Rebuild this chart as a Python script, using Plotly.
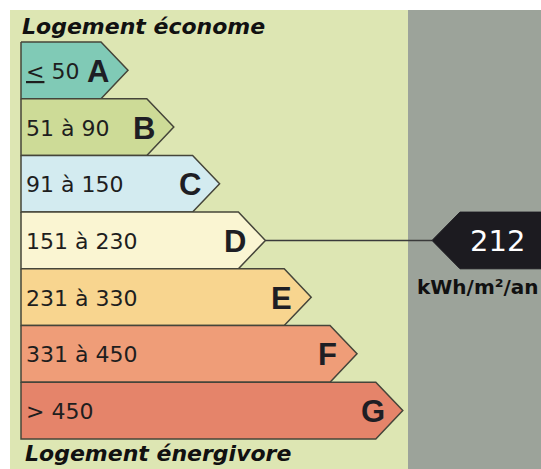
import plotly.graph_objects as go

# ---- data ----
classes = ["A", "B", "C", "D", "E", "F", "G"]
range_labels = ["<u>&lt;</u> 50", "51 à 90", "91 à 150", "151 à 230", "231 à 330", "331 à 450", "> 450"]
upper_bounds = [50, 90, 150, 230, 330, 450, float("inf")]
class_colors = ["#80cab6", "#cddb97", "#d3ebf0", "#faf5d2", "#f8d58f", "#ef9d78", "#e5846a"]
value = 212
unit_label = "kWh/m²/an"
top_title = "Logement économe"
bottom_title = "Logement énergivore"

# ---- layout geometry (pixel-like coordinate system) ----
W, H = 541, 469
x_left = 21
rect_right0 = 101
rect_step = 45.8
tip_len = 27
row_top0 = 42
row_h = 56.7

fig = go.Figure()

# background panels
fig.add_shape(type="rect", xref="x", yref="y", x0=10, x1=408, y0=10, y1=H,
              fillcolor="#dde6b3", line_width=0, layer="below")
fig.add_shape(type="rect", xref="x", yref="y", x0=408, x1=W, y0=10, y1=H,
              fillcolor="#9ca39a", line_width=0, layer="below")

# find class of value
cls_idx = next(i for i, ub in enumerate(upper_bounds) if value <= ub)

tips = []
for i, (c, lab, col) in enumerate(zip(classes, range_labels, class_colors)):
    top = row_top0 + i * row_h
    bot = top + row_h
    mid = (top + bot) / 2
    rr = rect_right0 + i * rect_step
    tip = rr + tip_len
    tips.append((tip, mid))
    fig.add_trace(go.Scatter(
        x=[x_left, rr, tip, rr, x_left, x_left],
        y=[top, top, mid, bot, bot, top],
        mode="lines", fill="toself", fillcolor=col,
        line=dict(color="#45453a", width=1.5),
        hoverinfo="skip", showlegend=False))
    fig.add_annotation(x=x_left + 3, y=mid + 1, text=lab, showarrow=False,
                       xanchor="left", yanchor="middle",
                       font=dict(family="DejaVu Sans", size=22, color="#1e1e1e"))
    fig.add_annotation(x=tip - 30, y=mid + 1, text="<b>%s</b>" % c, showarrow=False,
                       xanchor="center", yanchor="middle",
                       font=dict(family="Liberation Sans", size=31, color="#1e1e24"))

# connector line and pointer
tip_x, tip_y = tips[cls_idx]
ptr_tip = 432
ptr_body = 460
ptr_top = row_top0 + cls_idx * row_h
ptr_bot = ptr_top + row_h
fig.add_trace(go.Scatter(x=[tip_x, ptr_tip], y=[tip_y, tip_y], mode="lines",
                         line=dict(color="#3a3a3a", width=1.5),
                         hoverinfo="skip", showlegend=False))
fig.add_trace(go.Scatter(
    x=[ptr_tip, ptr_body, W, W, ptr_body, ptr_tip],
    y=[tip_y, ptr_top, ptr_top, ptr_bot, ptr_bot, tip_y],
    mode="lines", fill="toself", fillcolor="#1c1b20",
    line=dict(color="#1c1b20", width=1),
    hoverinfo="skip", showlegend=False))
fig.add_annotation(x=497, y=tip_y + 1, text=str(value), showarrow=False,
                   xanchor="center", yanchor="middle",
                   font=dict(family="DejaVu Sans", size=29, color="white"))
fig.add_annotation(x=478, y=ptr_bot + 18, text="<b>%s</b>" % unit_label, showarrow=False,
                   xanchor="center", yanchor="middle",
                   font=dict(family="DejaVu Sans", size=20, color="#111111"))

# titles
fig.add_annotation(x=20, y=26, text="<b><i>%s</i></b>" % top_title, showarrow=False,
                   xanchor="left", yanchor="middle",
                   font=dict(family="DejaVu Sans", size=22, color="#111111"))
fig.add_annotation(x=23, y=453, text="<b><i>%s</i></b>" % bottom_title, showarrow=False,
                   xanchor="left", yanchor="middle",
                   font=dict(family="DejaVu Sans", size=22, color="#111111"))

fig.update_layout(
    width=W, height=H,
    margin=dict(l=0, r=0, t=0, b=0),
    paper_bgcolor="white", plot_bgcolor="white",
    xaxis=dict(range=[0, W], visible=False, fixedrange=True),
    yaxis=dict(range=[H, 0], visible=False, fixedrange=True),
    showlegend=False,
)

fig.write_html("out.html", config={"displayModeBar": False},
               post_script="document.body.style.margin='0';document.body.style.overflow='hidden';")
